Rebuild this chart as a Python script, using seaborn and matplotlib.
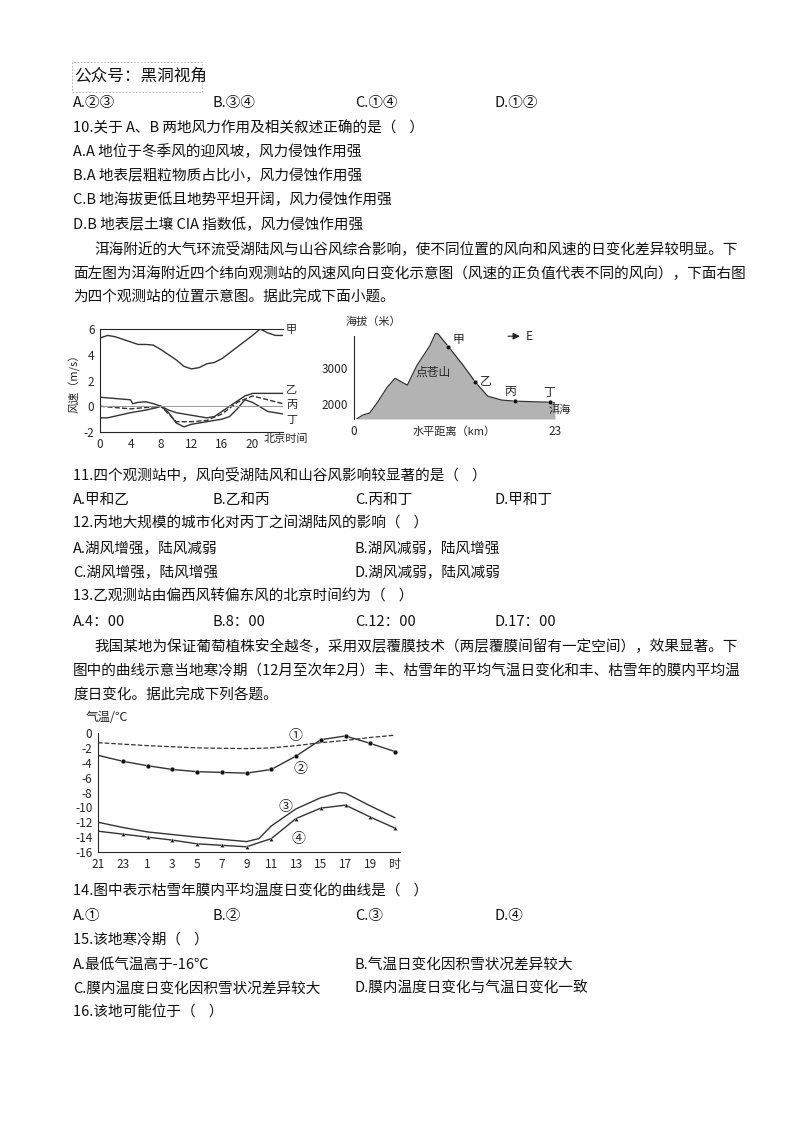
import matplotlib
matplotlib.use("Agg")
import matplotlib.pyplot as plt
import seaborn as sns
from matplotlib.patches import Rectangle

sns.set_style("white")
plt.rcParams["font.family"] = ["Noto Sans CJK SC", "DejaVu Sans"]
plt.rcParams["axes.unicode_minus"] = False

# ── chart 1: wind speed by hour ──────────────────────────────────────────
hours_jia = [0, 1, 2, 4, 5, 6, 7, 8, 10, 11, 12, 13, 14, 15, 16, 18, 20, 21, 22, 23, 24]
wind_jia = [5.3, 5.5, 5.4, 5.0, 4.8, 4.8, 4.75, 4.4, 3.6, 3.1, 2.9, 3.0, 3.3, 3.4, 3.7, 4.6, 5.5, 6.0, 5.7, 5.5, 5.5]
hours_yi = [0, 2, 4, 4.3, 5, 6, 7, 8, 9, 10, 12, 14, 15, 16, 18, 19, 20, 22, 24]
wind_yi = [0.7, 0.6, 0.5, 0.2, 0.3, 0.35, 0.2, 0.0, -0.3, -0.5, -0.7, -0.9, -0.8, -0.4, 0.4, 0.8, 1.0, 1.0, 1.0]
hours_bing = [0, 2, 4, 6, 8, 9, 10, 12, 14, 16, 18, 20, 22, 24]
wind_bing = [0.0, -0.1, -0.2, -0.1, 0.0, -0.6, -1.2, -1.2, -1.1, -0.6, 0.3, 0.8, 0.5, 0.2]
hours_ding = [0, 1, 4, 6, 7.5, 8, 9, 10, 11, 12, 14, 16, 17, 18, 19, 20, 22, 24]
wind_ding = [-0.9, -0.9, -0.5, -0.3, -0.1, 0.0, -0.5, -1.3, -1.6, -1.4, -1.2, -1.0, -0.8, -0.2, 0.5, 0.3, -0.4, -0.6]

# ── chart 2: elevation profile ───────────────────────────────────────────
dist_km = [0.3, 1.0, 1.8, 2.7, 3.8, 4.7, 5.5, 6.1, 7.2, 8.7, 9.3, 9.6, 10.8, 12.5, 13.9, 15.3, 16.9, 18.4, 22.4, 23.0]
elev_m = [1580, 1690, 1750, 2050, 2470, 2720, 2610, 2530, 3080, 3640, 3970, 3970, 3610, 3080, 2610, 2220, 2110, 2080, 2050, 2030]
station_names = ["甲", "乙", "丙", "丁"]
station_km = [10.8, 13.9, 18.4, 22.4]
station_m = [3610, 2610, 2080, 2050]

# ── chart 3: temperature curves ──────────────────────────────────────────
t_ticks = ["21", "23", "1", "3", "5", "7", "9", "11", "13", "15", "17", "19", "时"]
c1_x = [0, 4, 8, 12, 14, 16, 18, 20, 22, 24]
c1_y = [-1.3, -1.7, -2.0, -2.1, -2.0, -1.7, -1.3, -1.0, -0.6, -0.3]
c2_x = [0, 2, 4, 6, 8, 10, 12, 14, 16, 18, 20, 22, 24]
c2_y = [-3.0, -3.8, -4.4, -4.9, -5.2, -5.3, -5.4, -4.9, -3.1, -0.9, -0.4, -1.4, -2.5]
c3_x = [0, 2, 4, 8, 12, 13, 14, 16, 18, 19.5, 20, 22, 24]
c3_y = [-12.0, -12.7, -13.3, -14.0, -14.6, -14.2, -12.5, -10.2, -8.7, -8.0, -8.1, -9.8, -11.4]
c4_x = [0, 2, 4, 6, 8, 10, 12, 14, 16, 18, 20, 22, 24]
c4_y = [-13.2, -13.6, -14.0, -14.4, -14.9, -15.1, -15.3, -14.2, -11.5, -10.1, -9.7, -11.3, -12.8]

W, H = 800, 1132
fig = plt.figure(figsize=(8, 11.32), dpi=100)


def px_axes(l, t, r, b):
    return fig.add_axes([l / W, 1 - b / H, (r - l) / W, (b - t) / H])


def txt(x, y, s, size=10.5, **kw):
    fig.text(x / W, 1 - y / H, s, fontsize=size, va="center", ha="left", color="#111", **kw)


# header box
fig.patches.append(Rectangle((72 / W, 1 - 92 / H), 130 / W, 30 / H, transform=fig.transFigure,
                             fill=False, ls=(0, (2, 2)), lw=0.6, ec="#aaa"))
txt(74, 76, "公众号：黑洞视角", size=12)

cols = [73, 213, 355, 495]
for x, s in zip(cols, ["A.②③", "B.③④", "C.①④", "D.①②"]):
    txt(x, 103, s)
lines_top = [
    (73, 128, "10.关于 A、B 两地风力作用及相关叙述正确的是（    ）"),
    (73, 152, "A.A 地位于冬季风的迎风坡，风力侵蚀作用强"),
    (73, 176, "B.A 地表层粗粒物质占比小，风力侵蚀作用强"),
    (73, 200, "C.B 地海拔更低且地势平坦开阔，风力侵蚀作用强"),
    (73, 225, "D.B 地表层土壤 CIA 指数低，风力侵蚀作用强"),
    (94, 249, "洱海附近的大气环流受湖陆风与山谷风综合影响，使不同位置的风向和风速的日变化差异较明显。下"),
    (73, 274, "面左图为洱海附近四个纬向观测站的风速风向日变化示意图（风速的正负值代表不同的风向），下面右图"),
    (73, 298, "为四个观测站的位置示意图。据此完成下面小题。"),
    (73, 475, "11.四个观测站中，风向受湖陆风和山谷风影响较显著的是（    ）"),
    (73, 524, "12.丙地大规模的城市化对丙丁之间湖陆风的影响（    ）"),
    (73, 549, "A.湖风增强，陆风减弱"), (355, 549, "B.湖风减弱，陆风增强"),
    (73, 573, "C.湖风增强，陆风增强"), (355, 573, "D.湖风减弱，陆风减弱"),
    (73, 597, "13.乙观测站由偏西风转偏东风的北京时间约为（    ）"),
    (94, 647, "我国某地为保证葡萄植株安全越冬，采用双层覆膜技术（两层覆膜间留有一定空间），效果显著。下"),
    (73, 671, "图中的曲线示意当地寒冷期（12月至次年2月）丰、枯雪年的平均气温日变化和丰、枯雪年的膜内平均温"),
    (73, 696, "度日变化。据此完成下列各题。"),
    (73, 892, "14.图中表示枯雪年膜内平均温度日变化的曲线是（    ）"),
    (73, 940, "15.该地寒冷期（    ）"),
    (73, 965, "A.最低气温高于-16℃"), (355, 965, "B.气温日变化因积雪状况差异较大"),
    (73, 989, "C.膜内温度日变化因积雪状况差异较大"), (355, 989, "D.膜内温度日变化与气温日变化一致"),
    (73, 1013, "16.该地可能位于（    ）"),
]
for x, y, s in lines_top:
    txt(x, y, s)
for x, s in zip(cols, ["A.甲和乙", "B.乙和丙", "C.丙和丁", "D.甲和丁"]):
    txt(x, 500, s)
for x, s in zip(cols, ["A.4：00", "B.8：00", "C.12：00", "D.17：00"]):
    txt(x, 622, s)
for x, s in zip(cols, ["A.①", "B.②", "C.③", "D.④"]):
    txt(x, 916, s)

# ── chart 1 ──
ax1 = px_axes(100, 329, 283, 432)
for hx, wy, ls in [(hours_jia, wind_jia, "-"), (hours_yi, wind_yi, "-"),
                   (hours_bing, wind_bing, "--"), (hours_ding, wind_ding, "-")]:
    sns.lineplot(x=hx, y=wy, ax=ax1, color="#333", lw=1.0, ls=ls, sort=False)
ax1.axhline(0, color="#999", lw=0.7)
ax1.set_xlim(0, 24)
ax1.set_ylim(-2, 6)
ax1.set_xticks([0, 4, 8, 12, 16, 20])
ax1.set_yticks([-2, 0, 2, 4, 6])
ax1.tick_params(labelsize=8.5, length=2, pad=2)
ax1.spines["right"].set_visible(False)
for s in ax1.spines.values():
    s.set_linewidth(0.8)
ax1.set_ylabel("风速（m/s）", fontsize=8, labelpad=2)
for name, yv in zip(station_names, [5.9, 1.3, 0.1, -1.1]):
    ax1.text(24.4, yv, name, fontsize=8, va="center")
ax1.text(21.5, -2.15, "北京时间", fontsize=8, va="top")

# ── chart 2 ──
ax2 = px_axes(354, 333, 555, 419)
ax2.fill_between(dist_km, elev_m, 1580, color="#b3b3b3", lw=0)
sns.lineplot(x=dist_km, y=elev_m, ax=ax2, color="#333", lw=0.9, sort=False)
sns.scatterplot(x=station_km, y=station_m, ax=ax2, color="#111", s=12, zorder=5)
for name, xv, yv, dx, dy in zip(station_names, station_km, station_m, [0.5, 0.5, -1.2, -0.8], [100, -40, 180, 180]):
    ax2.text(xv + dx, yv + dy, name, fontsize=8.5)
ax2.text(7.0, 2780, "点苍山", fontsize=8.5)
ax2.text(22.3, 1750, "洱海", fontsize=8)
ax2.annotate("", xy=(19.3, 3900), xytext=(17.3, 3900),
             arrowprops=dict(arrowstyle="-|>", color="#222", lw=0.8))
ax2.text(19.6, 3900, "E", fontsize=8.5, va="center")
ax2.set_xlim(0, 23)
ax2.set_ylim(1580, 3990)
ax2.set_xticks([0, 23])
ax2.set_yticks([2000, 3000])
ax2.tick_params(labelsize=8.5, length=0, pad=4)
for side in ["top", "right", "bottom"]:
    ax2.spines[side].set_visible(False)
ax2.spines["left"].set_bounds(1580, 3900)
ax2.spines["left"].set_linewidth(0.8)
ax2.set_xlabel("水平距离（km）", fontsize=8, labelpad=-8)
ax2.text(-1.0, 4150, "海拔（米）", fontsize=8, va="bottom")

# ── chart 3 ──
ax3 = px_axes(98, 733, 400, 852)
sns.lineplot(x=c1_x, y=c1_y, ax=ax3, color="#333", lw=0.9, ls="--")
sns.lineplot(x=c2_x, y=c2_y, ax=ax3, color="#333", lw=1.0)
sns.scatterplot(x=c2_x[1:], y=c2_y[1:], ax=ax3, color="#111", s=12, zorder=5)
sns.lineplot(x=c3_x, y=c3_y, ax=ax3, color="#333", lw=1.0)
sns.lineplot(x=c4_x, y=c4_y, ax=ax3, color="#333", lw=1.0)
sns.scatterplot(x=c4_x[1:], y=c4_y[1:], ax=ax3, color="#111", s=9, marker="^", zorder=5)
for lab, xv, yv in [("①", 15.4, -0.4), ("②", 15.8, -4.9), ("③", 14.6, -9.9), ("④", 15.6, -14.2)]:
    ax3.text(xv, yv, lab, fontsize=10, va="center")
ax3.set_xlim(0, 24.4)
ax3.set_ylim(-16, 0)
ax3.set_xticks(range(0, 25, 2))
ax3.set_xticklabels(t_ticks)
ax3.set_yticks(range(-16, 1, 2))
ax3.tick_params(labelsize=8.5, length=2, pad=2)
for side in ["top", "right"]:
    ax3.spines[side].set_visible(False)
for s in ax3.spines.values():
    s.set_linewidth(0.8)
ax3.text(-1.0, 1.2, "气温/℃", fontsize=9, va="bottom")

fig.savefig("out.png", dpi=100)
